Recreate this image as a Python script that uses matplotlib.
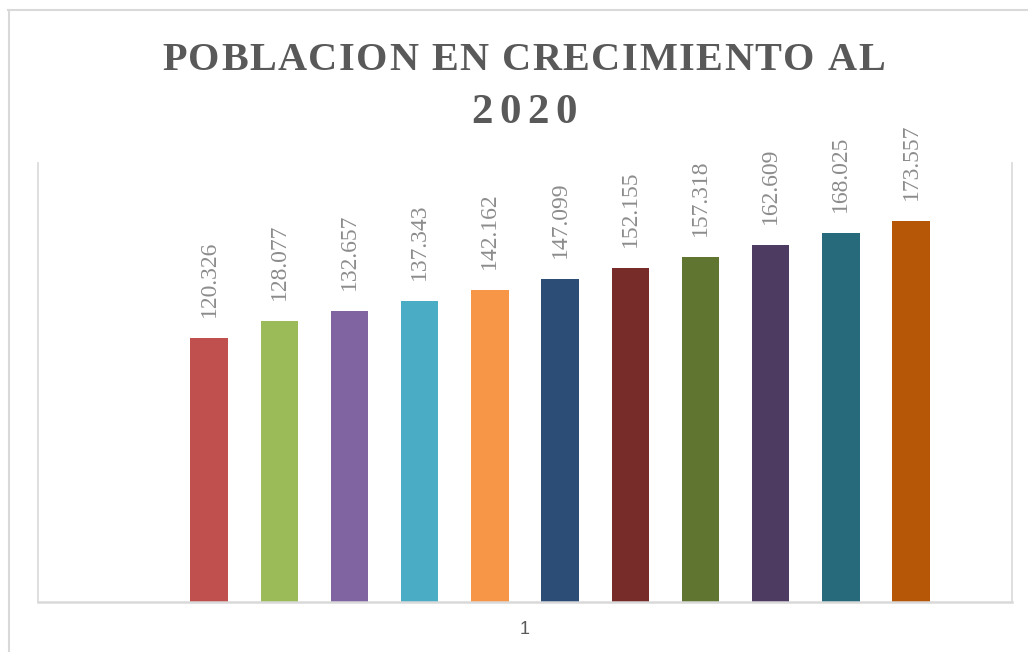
import matplotlib
matplotlib.use("Agg")
import matplotlib.pyplot as plt
from matplotlib.lines import Line2D
from matplotlib.font_manager import FontProperties
from matplotlib.textpath import TextToPath

# data: first series is empty in the original sheet
series = ["", "s1", "s2", "s3", "s4", "s5", "s6", "s7", "s8", "s9", "s10", "s11"]
values = [None, 120.326, 128.077, 132.657, 137.343, 142.162, 147.099,
          152.155, 157.318, 162.609, 168.025, 173.557]
labels = ["", "120.326", "128.077", "132.657", "137.343", "142.162", "147.099",
          "152.155", "157.318", "162.609", "168.025", "173.557"]
colors = ["#4F81BD", "#C0504D", "#9BBB59", "#8064A2", "#4BACC6", "#F79646",
          "#2C4D75", "#772C2A", "#5F7530", "#4D3B62", "#276A7C", "#B65708"]
category = "1"
title_lines = ["POBLACION EN CRECIMIENTO AL", "2020"]

W, H = 1028, 652
fig = plt.figure(figsize=(W / 100, H / 100), dpi=100)
fig.patch.set_facecolor("white")

def fx(px):
    return px / W

def fy(py):
    return 1 - py / H

ax = fig.add_axes([fx(38), fy(602), fx(1012) - fx(38), fy(163) - fy(602)])

n = len(values)
pos = [i - (n - 1) / 2 for i in range(n)]
for i, v in enumerate(values):
    if v is None:
        continue
    ax.bar(pos[i], v, width=0.534, color=colors[i], zorder=2)
    ax.annotate(labels[i], (pos[i], v), xytext=(0, 15), textcoords="offset points",
                rotation=90, ha="center", va="bottom", color="#8c8c8c",
                fontsize=17, family="Liberation Serif")

ax.set_xlim(-6.94, 6.94)
ax.set_ylim(0, 200)
ax.set_yticks([])
ax.set_xticks([0])
ax.set_xticklabels([category], fontsize=13, color="#595959", family="Liberation Sans")
ax.tick_params(axis="x", length=0, pad=14)
ax.spines["top"].set_visible(False)
for s in ["left", "right"]:
    ax.spines[s].set_color("#d9d9d9")
    ax.spines[s].set_linewidth(1.2)
ax.spines["bottom"].set_color("#d9d9d9")
ax.spines["bottom"].set_linewidth(1.8)

# outer chart border
fig.add_artist(Line2D([fx(8.5), fx(8.5)], [fy(10), fy(H + 5)], color="#d9d9d9", lw=1.5))
fig.add_artist(Line2D([fx(8), fx(W + 5)], [fy(10), fy(10)], color="#d9d9d9", lw=1.5))

# letter-spaced title
prop = FontProperties(family="Liberation Serif", weight="bold", size=29)
prop2 = FontProperties(family="Liberation Serif", weight="bold", size=31)
ttp = TextToPath()

def char_w(ch, fp):
    w, h, d = ttp.get_text_width_height_descent(ch, fp, ismath=False)
    return w * 100 / 72

def spaced(text, cx, base_y, total_w, fp):
    widths = [char_w(c, fp) for c in text]
    gap = (total_w - sum(widths)) / (len(text) - 1)
    x = cx - total_w / 2
    for c, w in zip(text, widths):
        fig.text(fx(x), fy(base_y), c, fontproperties=fp, color="#595959",
                 ha="left", va="baseline")
        x += w + gap

spaced(title_lines[0], 523.5, 70, 723, prop)
spaced(title_lines[1], 524, 123, 106, prop2)

fig.savefig("out.png", dpi=100, facecolor="white")
